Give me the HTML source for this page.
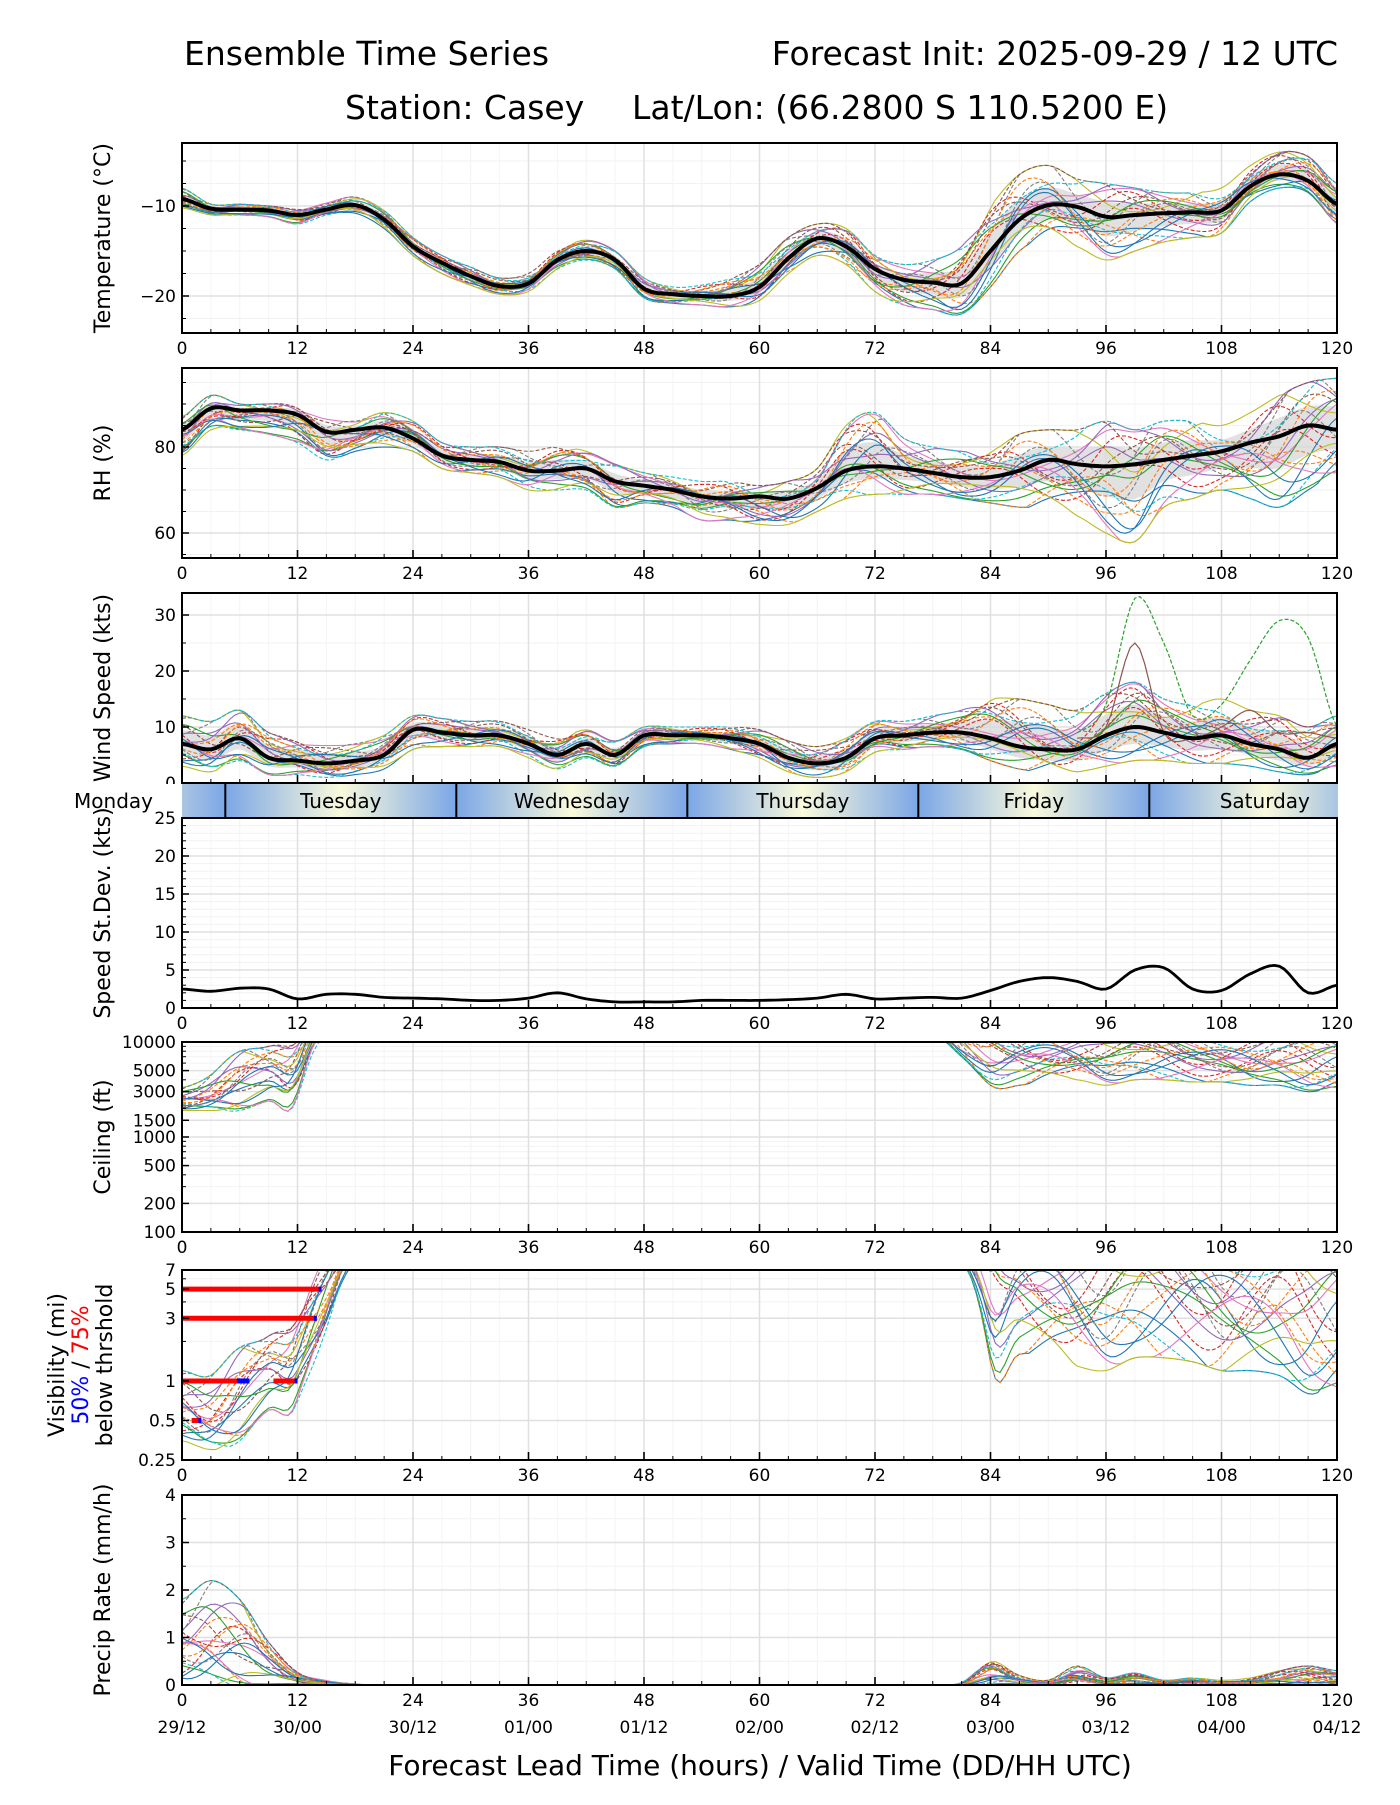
<!DOCTYPE html>
<html><head><meta charset="utf-8"><style>
body{margin:0;background:#fff;}
svg text{font-family:"DejaVu Sans","Liberation Sans",sans-serif;}
</style></head><body>
<svg id="fig" width="1400" height="1800" xmlns="http://www.w3.org/2000/svg">
<defs>
<linearGradient id="dayg" x1="0" x2="1" y1="0" y2="0">
<stop offset="0" stop-color="#7ba6e6"/><stop offset="0.5" stop-color="#fafadc"/><stop offset="1" stop-color="#7ba6e6"/>
</linearGradient>
</defs>
<text x="184" y="65" font-size="33">Ensemble Time Series</text>
<text x="1338" y="65" font-size="33" text-anchor="end">Forecast Init: 2025-09-29 / 12 UTC</text>
<text x="345" y="119" font-size="33">Station: Casey</text>
<text x="632" y="119" font-size="33">Lat/Lon: (66.2800 S 110.5200 E)</text>
<text x="760" y="1775" font-size="28" text-anchor="middle">Forecast Lead Time (hours) / Valid Time (DD/HH UTC)</text>
</svg>
<script>
// ---- data (3-hourly, 0..120 h) ----
const hours = [0,3,6,9,12,15,18,21,24,27,30,33,36,39,42,45,48,51,54,57,60,63,66,69,72,75,78,81,84,87,90,93,96,99,102,105,108,111,114,117,120];
const tempMean = [-9.2,-10.3,-10.4,-10.5,-11.0,-10.4,-9.9,-11.5,-14.5,-16.3,-17.8,-18.9,-18.6,-16.0,-15.0,-16.0,-19.2,-19.8,-20.0,-20.0,-19.0,-15.8,-13.6,-14.5,-17.0,-18.2,-18.5,-18.6,-15.0,-11.5,-9.9,-10.1,-11.2,-11.0,-10.8,-10.7,-10.5,-7.8,-6.5,-7.2,-9.8];
const tempLo = [-10.2,-11.0,-11.0,-11.2,-12.0,-11.0,-10.8,-12.5,-15.5,-17.5,-18.8,-19.8,-19.5,-17.0,-16.0,-17.0,-20.2,-20.8,-21.0,-21.2,-20.5,-17.5,-15.5,-16.5,-19.5,-21.0,-21.5,-22.0,-19.0,-15.0,-13.5,-14.5,-16.0,-15.0,-14.0,-13.5,-13.0,-9.5,-8.0,-8.5,-12.0];
const tempHi = [-8.0,-9.8,-9.8,-10.0,-10.2,-9.6,-9.0,-10.5,-13.5,-15.5,-16.8,-18.0,-17.5,-15.0,-13.8,-15.0,-18.0,-19.0,-18.8,-18.0,-16.5,-13.5,-12.0,-12.5,-15.5,-16.5,-16.0,-14.5,-10.0,-6.5,-5.5,-7.0,-7.5,-8.0,-8.5,-8.5,-8.0,-5.5,-4.0,-4.5,-7.5];
const rhMean = [84,89,88.5,88.5,87.5,83.5,84,84.5,82,78,77,76.5,74.5,74.5,75,72,71,70,68.5,68,68.5,68,70.5,74.5,75.5,75,74,73,73,74.5,77,76,75.5,76,77,78,79,81,82.5,85,84];
const rhLo = [78,84,84,83,81,77,79,80,79,75,74,73,70,70,70,66,67,66,63,63,62,62,65,68,69,69,69,68,67,66,66,64,60,58,66,68,70,68,66,70,74];
const rhHi = [87,92,90,90,90,87,86,88,86,81,80,80,79,80,79,76,74,73,72,72,71,72,75,85,88,82,80,79,79,83,84,84,86,84,86,86,85,88,92,95,96];
const windMean = [7,6,8,4.5,4,3.5,4,5,9.5,9,8.5,8.5,7,5,7,5,8.5,8.5,8.5,8,7,4.5,3.5,4.5,8,8.5,9,9,8,6.5,6,6,8.5,10,9,8,8.5,7,6,4.5,7];
const windLo = [3,2,4,1.5,1.5,1,1.5,2.5,6,6.5,6.5,6.5,4.5,2.5,4.5,3,6.5,7,7,6,4.5,2,1,2,5.5,6,6.5,6,4,2.5,2,2,3,4,4,3.5,3.5,3,2,1.5,3];
const windHi = [12,11,13,9,8,7,7,8.5,12,11.5,11,11,9.5,8,9.5,7.5,10,10,10,10,9.5,7.5,6.5,8,11,11,12,13,15,15,14,13,16,18,15,14,15,13,12,10,12];
const stdevVals = [2.5,2.2,2.6,2.5,1.2,1.8,1.8,1.4,1.3,1.2,1.0,1.0,1.3,2.0,1.2,0.8,0.8,0.8,1.0,1.0,1.0,1.1,1.3,1.8,1.2,1.3,1.4,1.3,2.3,3.5,4.0,3.5,2.5,5.0,5.3,2.5,2.3,4.5,5.5,2.0,3.0];
const ceilMean = [2500,2600,3000,3500,5000,20000,null,null,null,null,null,null,null,null,null,null,null,null,null,null,null,null,null,null,null,null,20000,12000,9000,7500,7000,7000,6500,6500,6500,6000,6000,6000,5500,5500,5500];
const ceilLo = [1900,1900,1900,2400,2600,12000,null,null,null,null,null,null,null,null,null,null,null,null,null,null,null,null,null,null,null,null,12000,7000,3500,3500,4000,4000,3500,4000,4000,3800,3800,3500,3500,3000,3300];
const ceilHi = [3300,4500,8000,9000,12000,30000,null,null,null,null,null,null,null,null,null,null,null,null,null,null,null,null,null,null,null,null,30000,20000,15000,14000,14000,14000,13000,13000,13000,12000,12000,12000,12000,12000,12000];
const visMean = [0.6,0.5,0.7,0.9,1.2,5,12,null,null,null,null,null,null,null,null,null,null,null,null,null,null,null,null,null,null,null,null,12,6,5,4,3.5,3.5,4,4,3.5,3,3,2.5,1.8,1.8];
const visLo = [0.35,0.3,0.35,0.6,0.7,2.5,8,null,null,null,null,null,null,null,null,null,null,null,null,null,null,null,null,null,null,null,null,8,1.4,1.6,1.6,1.3,1.2,1.5,1.5,1.4,1.2,1.2,1.1,0.8,0.9];
const visHi = [1.2,1.1,1.8,2.2,3.5,10,16,null,null,null,null,null,null,null,null,null,null,null,null,null,null,null,null,null,null,null,null,16,16,16,16,15,15,15,14,14,14,14,14,12,12];
const precMean = [1.2,1.0,0.8,0.3,0.1,0.03,0,0,0,0,0,0,0,0,0,0,0,0,0,0,0,0,0,0,0,0,0,0,0.05,0.02,0.02,0.05,0.02,0.03,0.03,0.05,0.05,0.05,0.1,0.1,0.1];
const precHi = [1.8,2.2,1.8,0.9,0.3,0.1,0.02,0,0,0,0,0,0,0,0,0,0,0,0,0,0,0,0,0,0,0,0,0.05,0.5,0.2,0.1,0.4,0.15,0.25,0.1,0.15,0.1,0.15,0.3,0.4,0.3];
const windOutlierA = [null,null,null,null,null,null,null,null,null,null,null,null,null,null,null,null,null,null,null,null,null,null,null,null,null,null,null,null,null,null,null,9,14,33,25,12,14,22,29,26,10];
const windOutlierB = [null,null,null,null,null,null,null,null,null,null,null,null,null,null,null,null,null,null,null,null,null,null,null,null,null,null,null,null,null,null,null,8,10,25,9,8,10,13,9,9,8];
const dayNames = ["Monday","Tuesday","Wednesday","Thursday","Friday","Saturday"];
const xTicks = [0,12,24,36,48,60,72,84,96,108,120];
const validLabels = ["29/12","30/00","30/12","01/00","01/12","02/00","02/12","03/00","03/12","04/00","04/12"];

const NS="http://www.w3.org/2000/svg";
const svg=document.getElementById('fig');
const X0=182,X1=1337;
const xs=h=>X0+h*(X1-X0)/120;
const colors=["#1f77b4","#ff7f0e","#2ca02c","#d62728","#9467bd","#8c564b","#e377c2","#7f7f7f","#bcbd22","#17becf"];
function mk(tag,attrs,parent){const e=document.createElementNS(NS,tag);for(const k in attrs)e.setAttribute(k,attrs[k]);(parent||svg).appendChild(e);return e;}
function interp(arr,t){
  const i=Math.floor(t/3),f=t/3-i;
  const g=j=>arr[Math.max(0,Math.min(arr.length-1,j))];
  const p0=g(i-1),p1=g(i),p2=g(i+1),p3=g(i+2);
  if(p1==null)return null; if(f===0)return p1; if(p2==null)return null;
  const a=p0==null?p1:p0,d=p3==null?p2:p3;
  return 0.5*((2*p1)+(-a+p2)*f+(2*a-5*p1+4*p2-d)*f*f+(-a+3*p1-3*p2+d)*f*f*f);
}
function pathFrom(fn,ys,step){let d="",pen=false;for(let t=0;t<=120.001;t+=step){const v=fn(t);if(v==null||isNaN(v)){pen=false;continue;}d+=(pen?"L":"M")+xs(t).toFixed(1)+","+ys(v).toFixed(1);pen=true;}return d;}

let clipId=0;
function panel(name,top,h,ys,yTicks,yMinor,ylabelLines,tickFmt){
  const g=mk('g',{});
  
  
  const cid='c'+(clipId++);
  const cp=mk('clipPath',{id:cid},g);mk('rect',{x:X0,y:top,width:X1-X0,height:h},cp);
  yMinor.forEach(v=>{const y=ys(v);if(y>=top&&y<=top+h)mk('line',{x1:X0,x2:X1,y1:y,y2:y,stroke:'#f2f2f2','stroke-width':1},g);});
  for(let t=3;t<120;t+=3){if(t%12)mk('line',{x1:xs(t),x2:xs(t),y1:top,y2:top+h,stroke:'#f4f4f4','stroke-width':1},g);}
  xTicks.forEach(t=>mk('line',{x1:xs(t),x2:xs(t),y1:top,y2:top+h,stroke:'#e0e0e0','stroke-width':1.5},g));
  yTicks.forEach(v=>{const y=ys(v);mk('line',{x1:X0,x2:X1,y1:y,y2:y,stroke:'#e0e0e0','stroke-width':1.5},g);});
  const data=mk('g',{'clip-path':'url(#'+cid+')'},g);
  mk('rect',{x:X0,y:top,width:X1-X0,height:h,fill:'none',stroke:'#000','stroke-width':2},g);
  for(let t=0;t<=120;t+=3){const maj=t%12===0;mk('line',{x1:xs(t),x2:xs(t),y1:top+h,y2:top+h-(maj?8:4),stroke:'#000','stroke-width':maj?1.6:1},g);}
  yTicks.forEach(v=>{const y=ys(v);mk('line',{x1:X0,x2:X0+7,y1:y,y2:y,stroke:'#000','stroke-width':1.5},g);
    const tx=mk('text',{x:X0-6,y:y+6,'font-size':17,'text-anchor':'end'},g);tx.textContent=tickFmt?tickFmt(v):v;
    
    });
  yMinor.forEach(v=>{const y=ys(v);if(y>=top&&y<=top+h)mk('line',{x1:X0,x2:X0+4,y1:y,y2:y,stroke:'#000','stroke-width':1},g);});
  const n=ylabelLines.length;
  ylabelLines.forEach((ln,i)=>{const xx=X0-(n===1?72:(n===2?95:118))+i*24;
    const tx=mk('text',{transform:`translate(${xx},${top+h/2}) rotate(-90)`,'font-size':22,'text-anchor':'middle'},g);
    
    
    if(typeof ln==='string')tx.textContent=ln;else ln.forEach(s=>{const sp=mk('tspan',{fill:s[1]},tx);sp.textContent=s[0];});});
  return data;
}
function xLabels(top){xTicks.forEach(t=>{const tx=mk('text',{x:xs(t),y:top+21,'font-size':17,'text-anchor':'middle'});tx.textContent=t;
  
  });}
const NM=22;
const base=[0.1,0.2,0.3,0.4,0.5,0.6,0.7,0.8,0.9,0.15,0.35,0.45,0.55,0.65,0.75,0.85,0.25,0.5,0.05,0.95,0.4,0.6];
const freq=[0.21,0.33,0.17,0.41,0.27,0.37,0.23,0.45,0.29,0.19,0.39,0.25,0.31,0.43,0.35,0.22,0.28,0.47,0.18,0.26,0.34,0.4];
function members(data,lo,hi,ys,fn,sw){
  for(let m=0;m<NM;m++){
    const f=t=>{const a=interp(lo,t),b=interp(hi,t);if(a==null||b==null)return null;
      let w=base[m]+0.28*Math.sin(t*freq[m]+m*1.7);w=Math.max(0,Math.min(1,w));
      return fn?fn(a,b,w):a+(b-a)*w;};
    const p=mk('path',{d:pathFrom(f,ys,0.5),fill:'none',stroke:colors[m%10],'stroke-width':sw||1.1,'stroke-dasharray':m%2?'4,2':'none'},data);
    
    
  }
}
function band(data,mean,lo,hi,ys,k){
  let up="",dn=[];for(let t=0;t<=120;t+=0.5){const m=interp(mean,t),a=interp(lo,t),b=interp(hi,t);if(m==null)continue;
    up+=(up?"L":"M")+xs(t).toFixed(1)+","+ys(m+(b-m)*k).toFixed(1);dn.unshift(xs(t).toFixed(1)+","+ys(m-(m-a)*k).toFixed(1));}
  const p=mk('path',{d:up+"L"+dn.join("L")+"Z",fill:'#d9d9d9',opacity:0.8},data);
  
  
}
function meanLine(data,arr,ys,w){const p=mk('path',{d:pathFrom(t=>interp(arr,t),ys,0.5),fill:'none',stroke:'#000','stroke-width':w||4,'stroke-linejoin':'round'},data);
  
  }

{const top=143,h=190,ys=v=>206+(-10-v)*9;
 const d=panel('temperature',top,h,ys,[-10,-20],[-5,-7.5,-12.5,-15,-17.5,-22.5],["Temperature (°C)"],v=>'\u2212'+Math.abs(v));
 band(d,tempMean,tempLo,tempHi,ys,0.45);members(d,tempLo,tempHi,ys);meanLine(d,tempMean,ys);xLabels(top+h);}
{const top=368,h=190,ys=v=>447+(80-v)*4.3;
 const d=panel('rh',top,h,ys,[60,80],[55,65,70,75,85,90,95],["RH (%)"]);
 band(d,rhMean,rhLo,rhHi,ys,0.45);members(d,rhLo,rhHi,ys);meanLine(d,rhMean,ys);xLabels(top+h);}
{const top=593,h=190,ys=v=>783-v*5.6;
 const d=panel('wind-speed',top,h,ys,[0,10,20,30],[5,15,25],["Wind Speed (kts)"]);
 band(d,windMean,windLo,windHi,ys,0.5);members(d,windLo,windHi,ys);
 [[windOutlierA,'#2ca02c'],[windOutlierB,'#8c564b']].forEach((o,i)=>{const p=mk('path',{d:pathFrom(t=>interp(o[0],t),ys,0.5),fill:'none',stroke:o[1],'stroke-width':1.2,'stroke-dasharray':i?'none':'4,2'},d);
  
  });
 meanLine(d,windMean,ys);}
{const top=784,h=34,b0=4.5;
 const g=mk('g',{});
 for(let k=-1;k<5;k++){
  mk('rect',{x:xs(b0+24*k),y:top,width:xs(24)-xs(0),height:h,fill:'url(#dayg)'},g);
  if(k>=0){const tx=mk('text',{x:xs(b0+24*k+12),y:top+24,'font-size':20,'text-anchor':'middle'},g);tx.textContent=dayNames[k+1];
  }}
 mk('rect',{x:0,y:top,width:X0,height:h,fill:'#fff'},g);mk('rect',{x:X1+1,y:top,width:63,height:h,fill:'#fff'},g);
 for(let k=0;k<5;k++)mk('line',{x1:xs(b0+24*k),x2:xs(b0+24*k),y1:top,y2:top+h,stroke:'#000','stroke-width':2},g);
 const ml=mk('text',{x:153,y:top+24,'font-size':20,'text-anchor':'end'},g);ml.textContent="Monday";
 }
{const top=818,h=190,ys=v=>1008-v*7.6;
 const minor=[];for(let v=1;v<25;v++)if(v%5)minor.push(v);
 const d=panel('speed-stdev',top,h,ys,[0,5,10,15,20,25],minor,["Speed St.Dev. (kts)"]);
 meanLine(d,stdevVals,ys,2.8);xLabels(top+h);}
{const top=1042,h=190,ys=v=>1232-(Math.log10(v)-2)/2*190;
 const minor=[300,400,600,700,800,900,2000,4000,6000,7000,8000,9000];
 const d=panel('ceiling',top,h,ys,[100,200,500,1000,1500,3000,5000,10000],minor,["Ceiling (ft)"]);
 members(d,ceilLo,ceilHi,ys,(a,b,w)=>Math.exp(Math.log(a)+(Math.log(b)-Math.log(a))*w));xLabels(top+h);}
{const top=1270,h=190,ys=v=>1460-(Math.log10(v/0.25))/Math.log10(28)*190;
 const d=panel('visibility',top,h,ys,[0.25,0.5,1,3,5,7],[2,4,6],["Visibility (mi)",[["50%","#0000ff"],[" / ","#000"],["75%","#ff0000"]],"below thrshold"]);
 members(d,visLo,visHi,ys,(a,b,w)=>Math.exp(Math.log(a)+(Math.log(b)-Math.log(a))*w));
 const thr=[[5,0,14.5,14.5],[3,0,14,14],[1,0,6,7],[1,9.5,12,12],[0.5,1,2,2]];
 thr.forEach(r=>{const y=ys(r[0]);mk('line',{x1:xs(r[1]),x2:xs(r[3]),y1:y,y2:y,stroke:'#ff0000','stroke-width':5},d);
  const b=mk('line',{x1:xs(r[2]-0.3),x2:xs(r[3]),y1:y,y2:y,stroke:'#0000ff','stroke-width':5},d);
  });
 xLabels(top+h);}
{const top=1495,h=190,ys=v=>1685-v*47.5;
 const lo=precMean.map(v=>0);
 const d=panel('precip-rate',top,h,ys,[0,1,2,3,4],[0.5,1.5,2.5,3.5],["Precip Rate (mm/h)"]);
 members(d,lo,precHi,ys);xLabels(top+h);
 xTicks.forEach((t,i)=>{const tx=mk('text',{x:xs(t),y:top+h+48,'font-size':17,'text-anchor':'middle'});tx.textContent=validLabels[i];
  });}
</script>
</body></html>
